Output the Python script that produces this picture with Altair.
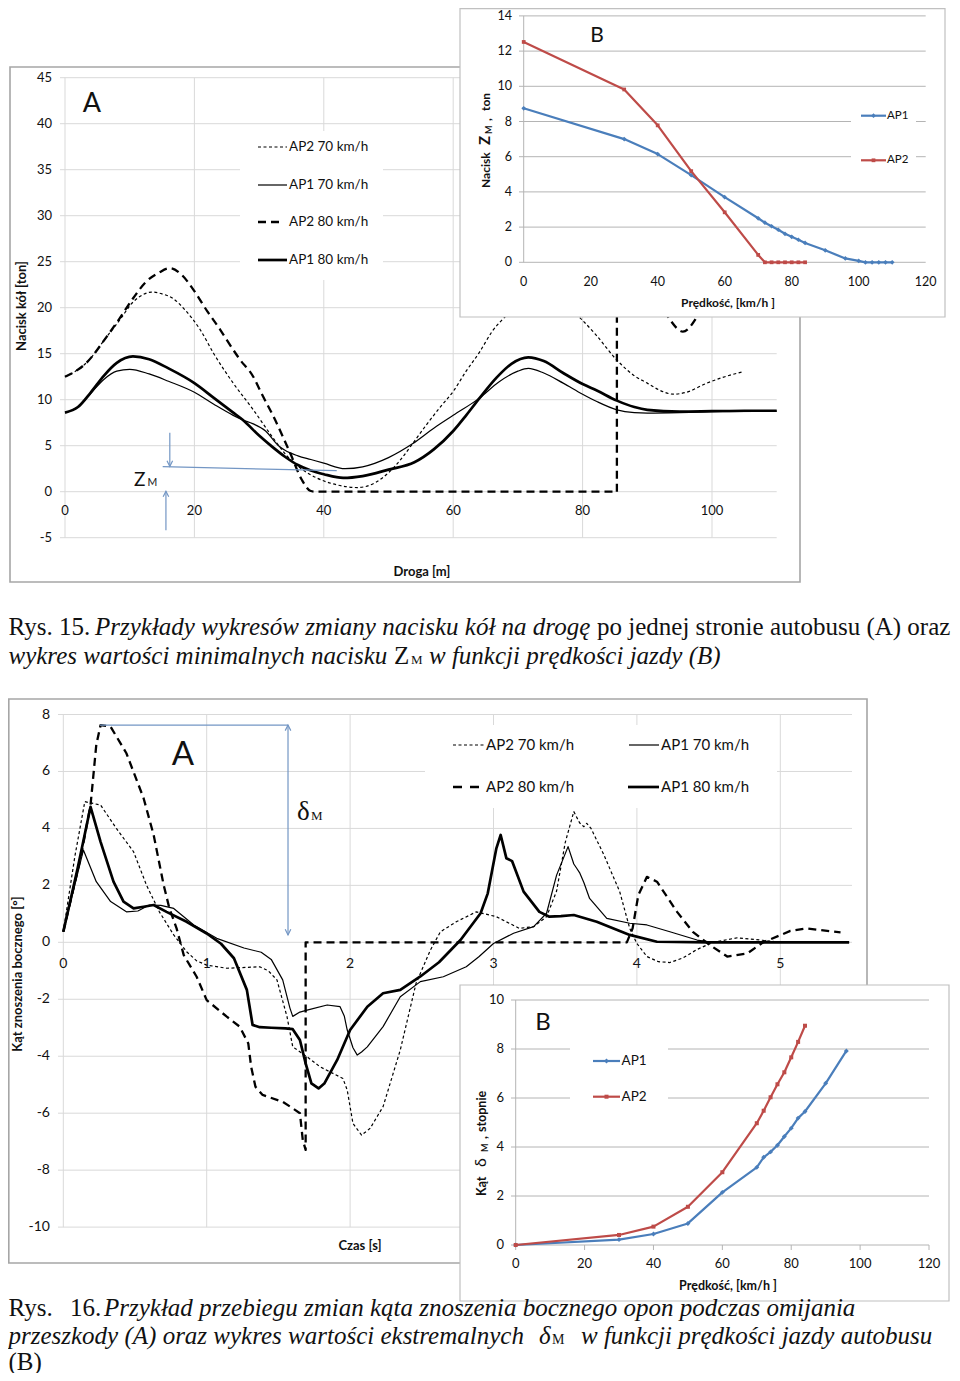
import altair as alt
import pandas as pd

# ================= DATA =================
# ---- Rys. 15 (A): Nacisk kół [ton] vs Droga [m] ----
a1_ap2_70_x = [0, 3.3, 6.4, 8.5, 10.5, 12, 13.4, 15, 16.7, 18.5, 20.9, 23, 26, 29, 32, 34.3, 36.5, 38.9, 42, 45.2,
               48, 50.2, 52, 53.7, 56, 58, 60, 62, 64.1, 66, 68.3, 72, 76, 79.6, 82, 85.3, 88, 90, 92, 94, 96, 99.2, 102, 104.6]
a1_ap2_70_y = [12.5, 14.0, 16.8, 18.7, 20.6, 21.4, 21.7, 21.5, 21.0, 19.8, 17.6, 15.0, 11.8, 9.0, 6.0, 3.9, 2.5, 1.5, 0.75, 0.45,
               1.0, 2.2, 3.6, 5.2, 7.4, 9.2, 10.9, 13.1, 15.2, 17.4, 19.2, 21.5, 21.0, 18.9, 17.1, 14.3, 12.6, 11.8, 11.0, 10.6, 10.8, 11.8, 12.5, 13.0]

a1_ap1_70_x = [0, 2, 4, 6, 8, 10, 13, 16, 20, 23, 26, 27.5, 29, 31, 33, 34, 36, 38, 40, 43.3,
               46, 50, 53.7, 57, 60, 64.1, 67, 70, 71.6, 74, 77, 80, 82.2, 85.3, 88, 90, 95, 100, 110]
a1_ap1_70_y = [8.6, 9.2, 10.7, 12.2, 13.1, 13.3, 12.8, 12.0, 10.8, 9.5, 8.3, 7.8, 7.4, 6.6, 5.0, 4.5, 3.9, 3.5, 3.1, 2.5,
               2.7, 3.7, 5.2, 6.9, 8.3, 10.2, 11.9, 13.1, 13.4, 12.9, 11.8, 10.6, 9.8, 8.9, 8.6, 8.55, 8.6, 8.7, 8.75]

a1_ap2_80_x = [0, 3.3, 6.4, 8.5, 10.5, 12.5, 14.5, 16.2, 18, 20, 22, 24, 25, 27, 29.1, 30.5, 32.2, 34.8, 36.6, 37.9, 38.6, 85.3,
               85.3, 85.3,
               85.3, 88, 91, 93.5, 95.5, 97.4, 99, 101]
a1_ap2_80_y = [12.5, 14.0, 16.8, 18.9, 21.0, 22.8, 23.8, 24.3, 23.6, 21.8, 19.6, 17.6, 16.5, 14.4, 12.5, 10.5, 8.2, 4.2, 1.3, 0.1, 0, 0,
               0, 28,
               28, 26, 22, 18.7, 17.4, 18.7, 21, 24]
a1_ap2_80_seg = [1, 1, 1, 1, 1, 1, 1, 1, 1, 1, 1, 1, 1, 1, 1, 1, 1, 1, 1, 1, 1, 1,
                 2, 2,
                 3, 3, 3, 3, 3, 3, 3, 3]

a1_ap1_80_x = [0, 2, 4, 6, 8, 10.5, 13, 16, 20, 23, 26, 27.5, 30, 32, 34, 36, 38, 40, 43, 46,
               50, 54, 57, 60, 62, 64.1, 66.7, 69, 71.6, 74, 77, 80, 82.2, 85.3, 88, 90, 95, 100, 105, 110]
a1_ap1_80_y = [8.6, 9.2, 10.8, 12.6, 14.0, 14.7, 14.4, 13.4, 11.8, 10.2, 8.6, 7.8, 6.1, 4.9, 3.8, 2.9, 2.3, 1.9, 1.5, 1.7,
               2.4, 3.2, 4.6, 6.6, 8.3, 10.2, 12.4, 13.9, 14.6, 14.2, 12.9, 11.7, 11.0, 9.9, 9.2, 8.9, 8.7, 8.75, 8.8, 8.8]

a1_xticks = [0, 20, 40, 60, 80, 100]
a1_yticks = [-5, 0, 5, 10, 15, 20, 25, 30, 35, 40, 45]
a1_legend = ["AP2 70 km/h", "AP1 70 km/h", "AP2 80 km/h", "AP1 80 km/h"]

# Z_M annotation (data units of panel A)
zm_line_x = [15.1, 42.0]
zm_line_y = [2.72, 2.28]
zm_down_x = [16.2]
zm_down_y = [6.4, 2.75]
zm_up_x = [15.6]
zm_up_y = [-4.2, 0.05]

# ---- Rys. 15 (B): Nacisk Z_M vs prędkość ----
b1_ap1_x = [0, 30, 40, 50, 60, 70, 72, 74, 76, 78, 80, 82, 84, 90, 96, 100, 102, 104, 106, 108, 110]
b1_ap1_y = [8.75, 7.0, 6.15, 4.95, 3.7, 2.5, 2.25, 2.05, 1.85, 1.62, 1.45, 1.28, 1.1, 0.68, 0.22, 0.08, 0, 0, 0, 0, 0]
b1_ap2_x = [0, 30, 40, 50, 60, 70, 72, 74, 76, 78, 80, 82, 84]
b1_ap2_y = [12.52, 9.82, 7.78, 5.18, 2.84, 0.42, 0, 0, 0, 0, 0, 0, 0]
b1_xticks = [0, 20, 40, 60, 80, 100, 120]
b1_yticks = [0, 2, 4, 6, 8, 10, 12, 14]

# ---- Rys. 16 (A): Kąt znoszenia bocznego vs czas ----
a2_ap2_70_x = [0, 0.08, 0.15, 0.26, 0.37, 0.49, 0.58, 0.67, 0.77, 0.86, 0.93, 1.0, 1.14, 1.37, 1.43, 1.49, 1.56, 1.60, 1.70, 1.79,
               1.95, 1.98, 2.02, 2.08, 2.14, 2.23, 2.35, 2.46, 2.56, 2.63, 2.74, 2.88, 3.02, 3.18, 3.28, 3.37, 3.44, 3.50, 3.56, 3.60,
               3.63, 3.65, 3.68, 3.77, 3.88, 3.95, 4.0, 4.07, 4.15, 4.23, 4.32, 4.42, 4.53, 4.70, 4.86, 5.0, 5.48]
a2_ap2_70_y = [0.37, 3.0, 4.94, 4.82, 4.0, 3.18, 2.01, 1.07, 0.26, -0.33, -0.65, -0.8, -0.91, -0.86, -1.0, -1.32, -2.61, -3.67, -4.02, -4.37,
               -4.78, -5.19, -6.36, -6.77, -6.53, -5.77, -3.78, -1.44, -0.27, 0.37, 0.72, 1.07, 0.9, 0.49, 0.55, 0.9, 1.8, 3.5, 4.59, 4.2,
               4.06, 4.18, 4.0, 3.07, 1.78, 0.49, -0.04, -0.5, -0.68, -0.71, -0.55, -0.25, 0, 0.16, 0.08, 0, 0]

a2_ap1_70_x = [0, 0.14, 0.23, 0.33, 0.44, 0.52, 0.60, 0.68, 0.77, 0.91, 1.07, 1.26, 1.38, 1.45, 1.53, 1.58, 1.60, 1.65, 1.70, 1.84,
               1.93, 1.96, 1.98, 2.02, 2.05, 2.08, 2.12, 2.23, 2.35, 2.49, 2.65, 2.81, 2.9, 3.0, 3.14, 3.28, 3.37, 3.44, 3.52, 3.56,
               3.58, 3.60, 3.63, 3.67, 3.79, 3.95, 4.07, 4.23, 4.42, 4.53, 5.0, 5.48]
a2_ap1_70_y = [0.37, 3.24, 2.13, 1.43, 1.07, 1.1, 1.31, 1.3, 1.19, 0.61, 0.14, -0.2, -0.35, -0.6, -1.32, -2.3, -2.6, -2.45, -2.38, -2.2,
               -2.26, -2.6, -3.08, -3.7, -3.96, -3.85, -3.67, -2.96, -1.91, -1.38, -1.21, -0.86, -0.5, -0.04, 0.32, 0.55, 1.02, 2.36, 3.36, 2.75,
               2.6, 2.45, 2.1, 1.54, 0.84, 0.67, 0.61, 0.37, 0.08, 0, 0, 0]

a2_ap2_80_x = [0, 0.12, 0.19, 0.23, 0.26, 0.33, 0.44, 0.56, 0.63, 0.70, 0.74, 0.79, 0.84, 0.93, 1.0, 1.14, 1.23, 1.29, 1.31, 1.34,
               1.39, 1.53, 1.60, 1.65, 1.67, 1.69, 1.69, 3.93, 3.97, 4.01, 4.07, 4.14, 4.28, 4.39, 4.51, 4.63, 4.77, 4.88, 5.07, 5.18, 5.42]
a2_ap2_80_y = [0.37, 2.95, 4.82, 6.93, 7.63, 7.57, 6.64, 5.06, 3.77, 2.01, 1.19, 0.49, -0.45, -1.21, -2.03, -2.61, -2.96, -3.55, -4.37, -5.07,
               -5.36, -5.6, -5.83, -6.0, -6.94, -7.29, 0, 0, 0.49, 1.66, 2.3, 2.13, 1.07, 0.37, -0.1, -0.5, -0.39, 0, 0.4, 0.49, 0.35]

a2_ap1_80_x = [0, 0.1, 0.19, 0.26, 0.35, 0.42, 0.49, 0.56, 0.63, 0.72, 0.86, 1.0, 1.1, 1.19, 1.28, 1.32, 1.37, 1.45, 1.55, 1.6,
               1.65, 1.69, 1.73, 1.78, 1.82, 1.91, 2.0, 2.12, 2.23, 2.35, 2.49, 2.62, 2.77, 2.91, 2.96, 3.02, 3.05, 3.09, 3.13, 3.21,
               3.32, 3.39, 3.47, 3.56, 3.72, 3.95, 4.14, 4.5, 5.0, 5.48]
a2_ap1_80_y = [0.37, 2.6, 4.76, 3.53, 2.13, 1.43, 1.19, 1.25, 1.31, 1.07, 0.72, 0.31, -0.05, -0.56, -1.67, -2.9, -2.98, -3.0, -3.02, -3.05,
               -3.43, -4.25, -4.95, -5.13, -4.96, -4.13, -3.08, -2.26, -1.79, -1.67, -1.2, -0.7, 0.08, 1.02, 1.72, 3.3, 3.77, 2.95, 2.85, 1.78,
               1.07, 0.9, 0.92, 0.96, 0.72, 0.26, 0.02, 0, 0, 0]

a2_xticks = [0, 1, 2, 3, 4, 5]
a2_yticks = [-10, -8, -6, -4, -2, 0, 2, 4, 6, 8]

# delta_M annotation (data units of panel A, Rys. 16)
dm_h_x = [0.256, 1.567]
dm_h_y = [7.63]
dm_v_x = [1.567]
dm_v_y = [7.63, 0.26]

# ---- Rys. 16 (B): Kąt delta_M vs prędkość ----
b2_ap1_x = [0, 30, 40, 50, 60, 70, 72, 74, 76, 78, 80, 82, 84, 90, 96]
b2_ap1_y = [0, 0.22, 0.45, 0.88, 2.15, 3.17, 3.58, 3.8, 4.07, 4.43, 4.77, 5.18, 5.45, 6.6, 7.92]
b2_ap2_x = [0, 30, 40, 50, 60, 70, 72, 74, 76, 78, 80, 82, 84]
b2_ap2_y = [0, 0.41, 0.75, 1.56, 2.97, 4.97, 5.48, 6.03, 6.56, 7.05, 7.66, 8.29, 8.95]
b2_xticks = [0, 20, 40, 60, 80, 100, 120]
b2_yticks = [0, 2, 4, 6, 8, 10]

# ================= LAYOUT / STYLE =================
MARGIN = 8
W, H = 944, 1365


def P(v):
    return round(v - MARGIN, 2)


FONT = "Lato"
SERIF = "Liberation Serif"
GRID = "#d9d9d9"
GRID_B = "#b4b4b4"
BLUE = "#4a7ebb"
RED = "#be4b48"
ANN = "#7396c4"
TXT = "#111111"
one = pd.DataFrame({"k": [0]})


def sc(domain, lo, hi):
    return alt.Scale(domain=domain, range=[P(lo), P(hi)], nice=False, zero=False)


A1X = sc([0, 110], 65, 776.7)
A1Y = sc([-5, 45], 537.7, 77.7)
B1X = sc([0, 120], 523.7, 925.7)
B1Y = sc([0, 14], 262.3, 15.9)
A2X = sc([0, 5.5], 63.3, 852)
A2Y = sc([-10, 8], 1227.1, 714.5)
B2X = sc([0, 120], 515.7, 929)
B2Y = sc([0, 10], 1245, 1000)


def curve(xs, ys, SX, SY, width, dash=None, color="black", interp="linear", seg=None):
    d = pd.DataFrame({"x": xs, "y": ys})
    d["i"] = list(range(len(d)))
    kw = dict(color=color, strokeWidth=width, interpolate=interp, strokeJoin="round")
    if dash:
        kw["strokeDash"] = dash
    enc = dict(x=alt.X("x:Q", scale=SX, axis=None), y=alt.Y("y:Q", scale=SY, axis=None), order="i:Q")
    if seg is not None:
        d["seg"] = seg
        enc["detail"] = "seg:N"
    return alt.Chart(d).mark_line(**kw).encode(**enc)


def points(xs, ys, SX, SY, shape, size, color):
    d = pd.DataFrame({"x": xs, "y": ys})
    return alt.Chart(d).mark_point(shape=shape, filled=True, size=size, color=color, opacity=1).encode(
        x=alt.X("x:Q", scale=SX, axis=None), y=alt.Y("y:Q", scale=SY, axis=None))


def text(s, x, y, size, bold=False, italic=False, font=FONT, align="left", baseline="alphabetic", angle=None, color=TXT):
    kw = dict(text=s, fontSize=size, font=font, align=align, baseline=baseline, color=color)
    if bold:
        kw["fontWeight"] = "bold"
    if italic:
        kw["fontStyle"] = "italic"
    if angle is not None:
        kw["angle"] = angle
    return alt.Chart(one).mark_text(**kw).encode(x=alt.value(P(x)), y=alt.value(P(y)))


def box(x0, y0, x1, y1, stroke=None, sw=1.0):
    kw = dict(fill="white")
    if stroke:
        kw.update(stroke=stroke, strokeWidth=sw)
    else:
        kw.update(strokeWidth=0)
    return alt.Chart(one).mark_rect(**kw).encode(
        x=alt.value(P(x0)), x2=alt.value(P(x1)), y=alt.value(P(y0)), y2=alt.value(P(y1)))


def seg_line(x0, y0, x1, y1, width, color="black", dash=None):
    kw = dict(color=color, strokeWidth=width)
    if dash:
        kw["strokeDash"] = dash
    return alt.Chart(one).mark_rule(**kw).encode(
        x=alt.value(P(x0)), x2=alt.value(P(x1)), y=alt.value(P(y0)), y2=alt.value(P(y1)))


def mpoint(x, y, shape, size, color):
    return alt.Chart(one).mark_point(shape=shape, filled=True, size=size, color=color, opacity=1).encode(
        x=alt.value(P(x)), y=alt.value(P(y)))


def hgrid(vals, SY, x0, x1, color=GRID):
    return alt.Chart(pd.DataFrame({"v": vals})).mark_rule(color=color, strokeWidth=1).encode(
        y=alt.Y("v:Q", scale=SY, axis=None), x=alt.value(P(x0)), x2=alt.value(P(x1)))


def vgrid(vals, SX, y0, y1, color=GRID):
    return alt.Chart(pd.DataFrame({"v": vals})).mark_rule(color=color, strokeWidth=1).encode(
        x=alt.X("v:Q", scale=SX, axis=None), y=alt.value(P(y0)), y2=alt.value(P(y1)))


def ylabels(vals, SY, xr, size):
    df = pd.DataFrame({"v": vals, "t": [str(v) for v in vals]})
    return alt.Chart(df).mark_text(align="right", baseline="middle", fontSize=size, font=FONT, color=TXT).encode(
        y=alt.Y("v:Q", scale=SY, axis=None), x=alt.value(P(xr)), text="t:N")


def xlabels(vals, SX, yc, size):
    df = pd.DataFrame({"v": vals, "t": [str(v) for v in vals]})
    return alt.Chart(df).mark_text(align="center", baseline="middle", fontSize=size, font=FONT, color=TXT).encode(
        x=alt.X("v:Q", scale=SX, axis=None), y=alt.value(P(yc)), text="t:N")


UP = "M-0.7,1.4L0,0L0.7,1.4"
DOWN = "M-0.7,-1.4L0,0L0.7,-1.4"


def arrowhead(x, y, SX, SY, shape):
    d = pd.DataFrame({"x": [x], "y": [y]})
    return alt.Chart(d).mark_point(shape=shape, filled=False, size=64, color=ANN, strokeWidth=1.2, opacity=1).encode(
        x=alt.X("x:Q", scale=SX, axis=None), y=alt.Y("y:Q", scale=SY, axis=None))


def drule(xs, ys, SX, SY, color=ANN, width=1.2):
    d = pd.DataFrame({"x": [xs[0]], "x2": [xs[-1]], "y": [ys[0]], "y2": [ys[-1]]})
    return alt.Chart(d).mark_rule(color=color, strokeWidth=width).encode(
        x=alt.X("x:Q", scale=SX, axis=None), x2="x2:Q",
        y=alt.Y("y:Q", scale=SY, axis=None), y2="y2:Q")


FINE = dict(width=1.2, dash=[3, 2.5])
THIN = dict(width=1.2, dash=None)
TDASH = dict(width=2.3, dash=[8, 5])
THICK = dict(width=2.7, dash=None)

# ================= PANEL A (Rys. 15) =================
a1 = [
    box(10, 67, 800, 582, stroke="#a6a6a6", sw=1.6),
    hgrid(a1_yticks, A1Y, 60, 776.7),
    vgrid(a1_xticks, A1X, 77.7, 537.7),
    box(240, 131, 383, 280),
    curve(a1_ap2_70_x, a1_ap2_70_y, A1X, A1Y, FINE["width"], FINE["dash"], interp="monotone"),
    curve(a1_ap1_70_x, a1_ap1_70_y, A1X, A1Y, THIN["width"], interp="monotone"),
    curve(a1_ap2_80_x, a1_ap2_80_y, A1X, A1Y, TDASH["width"], TDASH["dash"], interp="monotone", seg=a1_ap2_80_seg),
    curve(a1_ap1_80_x, a1_ap1_80_y, A1X, A1Y, THICK["width"], interp="monotone"),
    ylabels(a1_yticks, A1Y, 52, 13),
    xlabels(a1_xticks, A1X, 511, 13),
    text("A", 92, 104, 27, align="center", baseline="middle"),
    text("Nacisk kół [ton]", 22, 306, 13, bold=True, align="center", baseline="middle", angle=270),
    text("Droga [m]", 422, 572, 13, bold=True, align="center", baseline="middle"),
    # Z_M annotation
    drule(zm_line_x, zm_line_y, A1X, A1Y),
    drule(zm_down_x, zm_down_y, A1X, A1Y),
    drule(zm_up_x, zm_up_y, A1X, A1Y),
    arrowhead(zm_down_x[0], zm_down_y[-1], A1X, A1Y, DOWN),
    arrowhead(zm_up_x[0], zm_up_y[-1], A1X, A1Y, UP),
    text("Z", 134, 486, 19),
    text("M", 147.5, 486, 10.5),
]
leg_styles = [FINE, THIN, TDASH, THICK]
for lab, yy, st in zip(a1_legend, [147, 185, 222, 260], leg_styles):
    x1 = 283 if st is TDASH else 287
    a1.append(seg_line(258, yy, x1, yy, st["width"], dash=st["dash"]))
    a1.append(text(lab, 289, yy, 13.5, baseline="middle"))
panel_a1 = alt.layer(*a1)

# ================= PANEL B (Rys. 15) =================
b1 = [
    box(460, 8.6, 945, 317, stroke="#c0c0c0", sw=1.2),
    hgrid(b1_yticks, B1Y, 519, 925.7, GRID_B),
    vgrid([0], B1X, 15.9, 262.3, GRID_B),
    box(851, 100, 916, 176),
    curve(b1_ap1_x, b1_ap1_y, B1X, B1Y, 2.2, color=BLUE),
    points(b1_ap1_x, b1_ap1_y, B1X, B1Y, "diamond", 22, BLUE),
    curve(b1_ap2_x, b1_ap2_y, B1X, B1Y, 2.2, color=RED),
    points(b1_ap2_x, b1_ap2_y, B1X, B1Y, "square", 14, RED),
    ylabels(b1_yticks, B1Y, 512, 12.5),
    xlabels(b1_xticks, B1X, 281.5, 12.5),
    text("B", 597, 36, 21, align="center", baseline="middle"),
    seg_line(861, 115.7, 886, 115.7, 2.2, color=BLUE),
    mpoint(873.5, 115.7, "diamond", 22, BLUE),
    text("AP1", 887, 115.7, 11.5, baseline="middle"),
    seg_line(861, 160.3, 886, 160.3, 2.2, color=RED),
    mpoint(873.5, 160.3, "square", 14, RED),
    text("AP2", 887, 160.3, 11.5, baseline="middle"),
    text("Prędkość, [km/h ]", 728, 303, 12, bold=True, align="center", baseline="middle"),
    # rotated y title:  Nacisk Z_M , ton
    text("Nacisk", 486, 188, 12, bold=True, baseline="middle", angle=270),
    text("Z", 485, 145, 15, bold=True, baseline="middle", angle=270),
    text("M", 488.5, 134, 9, bold=True, baseline="middle", angle=270),
    text(",", 487, 121, 12, bold=True, baseline="middle", angle=270),
    text("ton", 486, 111, 12, bold=True, baseline="middle", angle=270),
]
panel_b1 = alt.layer(*b1)

# ================= PANEL A (Rys. 16) =================
a2 = [
    box(8.8, 699, 867, 1263, stroke="#a6a6a6", sw=1.6),
    hgrid(a2_yticks, A2Y, 58, 852),
    vgrid(a2_xticks, A2X, 714.5, 1227.1),
    box(425, 725, 777, 808),
    curve(a2_ap2_70_x, a2_ap2_70_y, A2X, A2Y, FINE["width"], FINE["dash"]),
    curve(a2_ap1_70_x, a2_ap1_70_y, A2X, A2Y, THIN["width"]),
    curve(a2_ap2_80_x, a2_ap2_80_y, A2X, A2Y, TDASH["width"], TDASH["dash"]),
    curve(a2_ap1_80_x, a2_ap1_80_y, A2X, A2Y, THICK["width"]),
    ylabels(a2_yticks, A2Y, 50, 14),
    xlabels(a2_xticks, A2X, 964, 14),
    text("A", 183, 755, 33, align="center", baseline="middle"),
    text("Kąt znoszenia bocznego [°]", 18, 974, 13, bold=True, align="center", baseline="middle", angle=270),
    text("Czas [s]", 360, 1246, 13, bold=True, align="center", baseline="middle"),
    # delta_M annotation
    drule(dm_h_x, [dm_h_y[0], dm_h_y[0]], A2X, A2Y),
    drule([dm_v_x[0], dm_v_x[0]], dm_v_y, A2X, A2Y),
    arrowhead(dm_v_x[0], dm_v_y[0], A2X, A2Y, UP),
    arrowhead(dm_v_x[0], dm_v_y[-1], A2X, A2Y, DOWN),
    text("δ", 297, 820, 27, font=SERIF),
    text("M", 311, 820, 13, font=SERIF),
    # legend
    seg_line(453, 745, 485, 745, FINE["width"], dash=FINE["dash"]),
    text("AP2 70 km/h", 486, 745, 15, baseline="middle"),
    seg_line(629, 745, 659, 745, THIN["width"]),
    text("AP1 70 km/h", 661, 745, 15, baseline="middle"),
    seg_line(453, 787, 479, 787, TDASH["width"], dash=[9, 8]),
    text("AP2 80 km/h", 486, 787, 15, baseline="middle"),
    seg_line(628, 787, 659, 787, THICK["width"]),
    text("AP1 80 km/h", 661, 787, 15, baseline="middle"),
]
panel_a2 = alt.layer(*a2)

# ================= PANEL B (Rys. 16) =================
b2 = [
    box(460, 985, 949, 1301, stroke="#c0c0c0", sw=1.2),
    hgrid(b2_yticks, B2Y, 511, 929, GRID_B),
    vgrid([0], B2X, 1000, 1245, GRID_B),
    vgrid(b2_xticks, B2X, 1245, 1250, GRID_B),
    box(570, 1040, 668, 1115),
    curve(b2_ap1_x, b2_ap1_y, B2X, B2Y, 2.2, color=BLUE),
    points(b2_ap1_x, b2_ap1_y, B2X, B2Y, "diamond", 24, BLUE),
    curve(b2_ap2_x, b2_ap2_y, B2X, B2Y, 2.2, color=RED),
    points(b2_ap2_x, b2_ap2_y, B2X, B2Y, "square", 16, RED),
    ylabels(b2_yticks, B2Y, 504, 13),
    xlabels(b2_xticks, B2X, 1264, 13),
    text("B", 543, 1023, 24, align="center", baseline="middle"),
    seg_line(593, 1061, 620, 1061, 2.2, color=BLUE),
    mpoint(606.5, 1061, "diamond", 24, BLUE),
    text("AP1", 621.5, 1061, 13.5, baseline="middle"),
    seg_line(593, 1096.7, 620, 1096.7, 2.2, color=RED),
    mpoint(606.5, 1096.7, "square", 16, RED),
    text("AP2", 621.5, 1096.7, 13.5, baseline="middle"),
    text("Prędkość, [km/h ]", 728, 1286, 12.5, bold=True, align="center", baseline="middle"),
    # rotated y title: Kąt delta_M , stopnie
    text("Kąt", 482, 1196, 12.5, bold=True, baseline="middle", angle=270),
    text("δ", 481, 1167, 16, baseline="middle", angle=270),
    text("M", 485, 1152, 9, bold=True, baseline="middle", angle=270),
    text(",", 483, 1139, 12.5, bold=True, baseline="middle", angle=270),
    text("stopnie", 482, 1132, 12.5, bold=True, baseline="middle", angle=270),
]
panel_b2 = alt.layer(*b2)

# ================= CAPTIONS =================
CS = 25
caps = [
    text("Rys. 15.", 8.5, 635, CS, font=SERIF),
    text("Przykłady wykresów zmiany nacisku kół na drogę", 95, 635, CS, italic=True, font=SERIF),
    text("po jednej stronie autobusu (A) oraz", 597, 635, CS, font=SERIF),
    text("wykres wartości  minimalnych nacisku", 8.5, 664, CS, italic=True, font=SERIF),
    text("Z", 394, 664, CS, font=SERIF),
    text("M", 411, 664, 13, font=SERIF),
    text("w funkcji prędkości jazdy (B)", 429, 664, CS, italic=True, font=SERIF),
    text("Rys.", 8.5, 1316, CS, font=SERIF),
    text("16.", 70, 1316, CS, font=SERIF),
    text("Przykład przebiegu zmian kąta znoszenia bocznego opon podczas omijania", 104, 1316, CS, italic=True, font=SERIF),
    text("przeszkody (A) oraz wykres wartości ekstremalnych", 8.5, 1344, CS, italic=True, font=SERIF),
    text("δ", 539, 1344, CS, italic=True, font=SERIF),
    text("M", 552, 1344, 14, font=SERIF),
    text("w funkcji prędkości jazdy autobusu", 581, 1344, CS, italic=True, font=SERIF),
    text("(B)", 8.5, 1369.5, CS, font=SERIF),
]
panel_caps = alt.layer(*caps)

chart = alt.layer(panel_a1, panel_b1, panel_a2, panel_b2, panel_caps).resolve_scale(
    x="independent", y="independent"
).properties(
    width=W, height=H, autosize=alt.AutoSizeParams(type="none"), padding=0, background="white"
).configure_view(stroke=None)

chart.save("out.html", embed_options={"renderer": "svg", "actions": False})
